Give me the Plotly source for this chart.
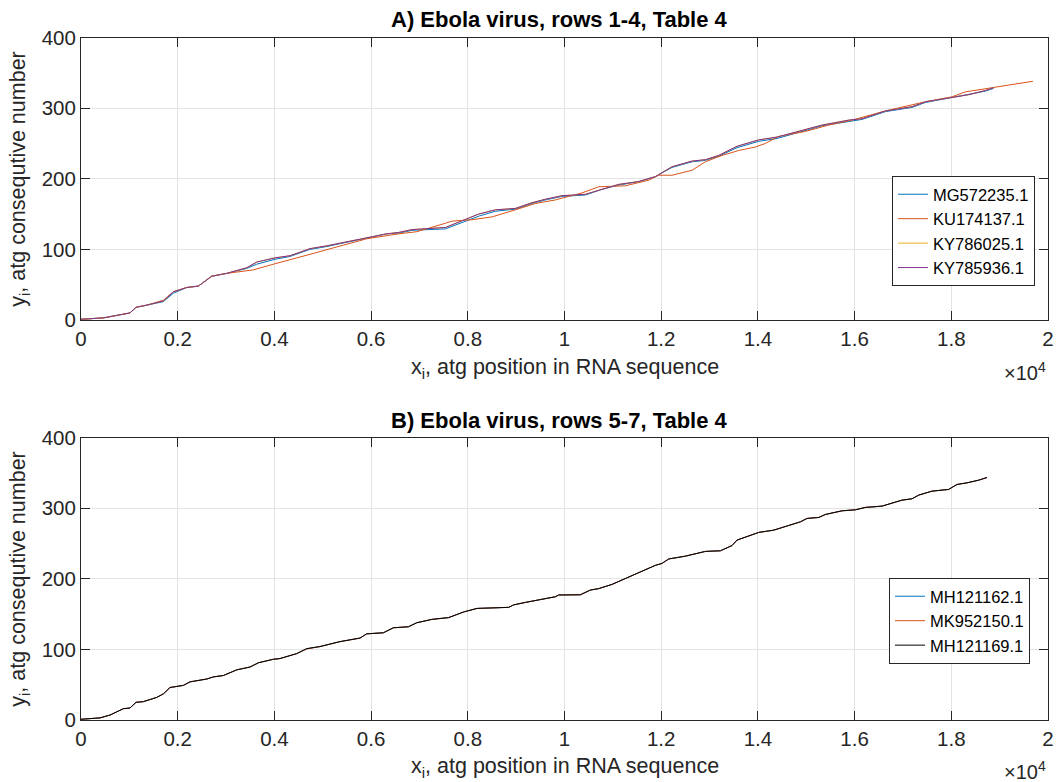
import plotly.graph_objects as go

# ---------------- Panel A data (x = atg position, y = consecutive number) ----------------
x_MG572235 = [0, 463, 1013, 1138, 1359, 1704, 1911, 2186, 2428, 2703, 3013, 3427, 3634, 4013, 4323, 4736,
              5082, 5427, 5909, 6323, 6571, 6846, 7537, 8019, 8226, 8571, 8985, 9328, 9604, 9949, 10432,
              10776, 11121, 11535, 11880, 12223, 12637, 12913, 13189, 13568, 14017, 14395, 14982, 15327,
              15877, 16153, 16636, 17187, 17463, 18014, 18359, 18705, 18877]
y_MG572235 = [1, 3, 10, 18, 21, 26, 38, 46, 48, 62, 66, 73, 79, 86, 90, 100, 104, 109, 116, 122, 123, 127,
              129, 141, 147, 154, 157, 165, 170, 175, 177, 185, 191, 196, 203, 216, 224, 226, 232, 244,
              253, 257, 269, 275, 281, 284, 295, 301, 308, 315, 319, 324, 328]

x_KU174137 = [0, 463, 1013, 1138, 1359, 1704, 1911, 2186, 2428, 2703, 3013, 3565, 3979, 4323, 4736, 5427,
              5909, 6571, 6943, 7537, 7673, 8087, 8501, 8985, 9397, 9811, 10362, 10707, 11259, 11742,
              11948, 12223, 12637, 12913, 13258, 13603, 13948, 14155, 14430, 14982, 15464, 15946, 16636,
              17463, 18014, 18291, 18767, 19256, 19688]
y_KU174137 = [1, 3, 10, 18, 21, 28, 40, 46, 48, 62, 66, 71, 79, 85, 93, 106, 115, 122, 125, 137, 140, 142,
              146, 156, 165, 170, 180, 188.6, 190, 198, 205, 205, 212, 224, 233, 240, 245, 250, 260, 267,
              276, 283, 296, 309, 316, 323, 328, 333, 338]

x_KY786025 = [0, 463, 1013, 1138, 1359, 1704, 1911, 2186, 2428, 2703, 3013, 3427, 3634, 4013, 4323, 4736,
              5082, 5427, 5909, 6323, 6571, 6846, 7537, 8019, 8226, 8571, 8985, 9328, 9604, 9949, 10432,
              10776, 11121, 11535, 11880, 12223, 12637, 12913, 13189, 13568, 14017, 14395, 14982, 15327,
              15877, 16153, 16636, 17187, 17463, 18014, 18359, 18705, 18877]
y_KY786025 = [1, 3, 10, 18, 21, 27, 40, 46, 48, 62, 66, 74, 82, 88, 91, 101, 105, 110, 116, 122, 124, 128,
              131, 144, 150, 156, 158, 166, 171, 176, 178, 185, 192, 196, 203, 217, 225, 227, 233, 246,
              255, 259, 270, 276, 283, 285, 296, 302, 309, 315, 319, 325, 329]

x_KY785936 = [0, 463, 1013, 1138, 1359, 1704, 1911, 2186, 2428, 2703, 3013, 3427, 3634, 4013, 4323, 4736,
              5082, 5427, 5909, 6323, 6571, 6846, 7537, 8019, 8226, 8571, 8985, 9328, 9604, 9949, 10432,
              10776, 11121, 11535, 11880, 12223, 12637, 12913, 13189, 13568, 14017, 14395, 14982, 15327,
              15877, 16153, 16636, 17187, 17463, 18014, 18359, 18705, 18877]
y_KY785936 = [1, 3, 10, 18, 21, 27, 40, 46, 48, 62, 66, 74, 82, 88, 91, 101, 105, 110, 116, 122, 124, 128,
              131, 144, 150, 156, 158, 166, 171, 176, 178, 185, 192, 196, 203, 217, 225, 227, 233, 246,
              255, 259, 270, 276, 283, 285, 296, 302, 309, 315, 319, 325, 329]

# ---------------- Panel B data ----------------
x_B = [0, 393, 600, 877, 1013, 1138, 1290, 1566, 1704, 1841, 2118, 2254, 2600, 2738, 2945, 3220, 3495,
       3669, 3979, 4116, 4461, 4668, 4943, 5357, 5770, 5909, 6254, 6461, 6772, 6943, 7260, 7605, 7915,
       8191, 8846, 8949, 9191, 9466, 9811, 9880, 10328, 10535, 10707, 10983, 11259, 11535, 11880, 12017,
       12155, 12500, 12913, 13224, 13465, 13568, 13845, 14017, 14327, 14568, 14879, 15016, 15258, 15396,
       15740, 16016, 16223, 16567, 16774, 16981, 17187, 17325, 17600, 17945, 18118, 18325, 18567, 18739]
y_MH121162 = [1, 3, 7, 16, 17, 25, 26, 32, 37, 46, 49, 54, 58, 61, 63, 71, 75, 81, 86, 87, 94, 101, 104,
              111, 116, 122, 123.5, 130.6, 132, 137.7, 142.5, 145, 153, 158, 159.5, 163, 166.5, 170, 174.5,
              177, 177.3, 184, 186, 192, 200, 208, 219, 221.7, 228, 232, 238.7, 239.6, 247, 254.7, 261.8,
              265.6, 268.8, 273.5, 280.6, 285.4, 286.8, 291, 296.2, 297.6, 301, 302.8, 306.6, 311.3, 313.2,
              318.4, 324, 326.5, 333.5, 335.8, 339.6, 343.4]
y_MK952150 = [1, 3, 7, 16, 17, 25, 26, 32, 37, 46, 49, 54, 58, 61, 63, 71, 75, 81, 86, 87, 94, 100.5, 104,
              111, 116, 122, 123.5, 130.6, 132, 137.7, 142.5, 145, 153, 158, 159.5, 163, 166.5, 170, 174.5,
              177, 177.3, 184, 186, 192, 200, 208, 219, 221.7, 228, 232, 238.7, 239.6, 247, 254.7, 261.8,
              265.6, 268.8, 273.5, 280.6, 285.4, 286.8, 291, 296.2, 297.6, 301, 302.8, 306.6, 311.3, 313.2,
              318.4, 324, 326.5, 333.5, 335.8, 339.6, 343.4]
y_MH121169 = [1, 3, 7, 16, 17, 25, 26, 32, 37, 46, 49, 54, 58, 61, 63, 71, 75, 81, 86, 87, 94, 101, 104,
              111, 116, 122, 123.5, 130.6, 132, 137.7, 142.5, 145, 153, 158, 159.5, 163, 166.5, 170, 174.5,
              177, 177.3, 184, 186, 192, 200, 208, 219, 221.7, 228, 232, 238.7, 239.6, 247, 254.7, 261.8,
              265.6, 268.8, 273.5, 280.6, 285.4, 286.8, 291, 296.2, 297.6, 301, 302.8, 306.6, 311.3, 313.2,
              318.4, 324, 326.5, 333.5, 335.8, 339.6, 343.4]

x_ticks = [0, 2000, 4000, 6000, 8000, 10000, 12000, 14000, 16000, 18000, 20000]
x_ticklabels = ["0", "0.2", "0.4", "0.6", "0.8", "1", "1.2", "1.4", "1.6", "1.8", "2"]
y_ticks = [0, 100, 200, 300, 400]

W, H = 1057, 782
FONT = "Liberation Sans, Arial, sans-serif"
TXT = "#262626"
C_BLUE, C_ORANGE, C_YELLOW, C_PURPLE, C_BLACK = "#0072BD", "#D95319", "#EDB120", "#7E2F8E", "#000000"

fig = go.Figure()

top = [("MG572235.1", x_MG572235, y_MG572235, C_BLUE),
       ("KU174137.1", x_KU174137, y_KU174137, C_ORANGE),
       ("KY786025.1", x_KY786025, y_KY786025, C_YELLOW),
       ("KY785936.1", x_KY785936, y_KY785936, C_PURPLE)]
for name, xs, ys, c in top:
    fig.add_trace(go.Scatter(x=xs, y=ys, mode="lines", name=name, line=dict(color=c, width=1),
                             xaxis="x", yaxis="y", legend="legend"))

bot = [("MH121162.1", x_B, y_MH121162, C_BLUE),
       ("MK952150.1", x_B, y_MK952150, C_ORANGE),
       ("MH121169.1", x_B, y_MH121169, C_BLACK)]
for name, xs, ys, c in bot:
    fig.add_trace(go.Scatter(x=xs, y=ys, mode="lines", name=name, line=dict(color=c, width=1),
                             xaxis="x2", yaxis="y2", legend="legend2"))

def px_x(p):
    return p / W

def px_y(p):
    return 1 - p / H

xdom = [px_x(81), px_x(1048)]
ydom_top = [px_y(320), px_y(37.5)]
ydom_bot = [px_y(720), px_y(437.5)]

axis_common = dict(showline=True, linecolor=TXT, linewidth=1, mirror="ticks", ticks="inside",
                   ticklen=9, tickcolor=TXT, tickwidth=1, showgrid=True, gridcolor="#e3e3e3",
                   gridwidth=1, zeroline=False, automargin=False,
                   tickfont=dict(family=FONT, size=20.5, color=TXT))

fig.update_layout(
    template="none",
    width=W, height=H, margin=dict(l=0, r=0, t=0, b=0, pad=0),
    paper_bgcolor="white", plot_bgcolor="white", showlegend=True,
    xaxis=dict(domain=xdom, range=[0, 20000], tickvals=x_ticks, ticktext=x_ticklabels,
               anchor="y", **axis_common),
    yaxis=dict(domain=ydom_top, range=[0, 400], tickvals=y_ticks, anchor="x", **axis_common),
    xaxis2=dict(domain=xdom, range=[0, 20000], tickvals=x_ticks, ticktext=x_ticklabels,
                anchor="y2", **axis_common),
    yaxis2=dict(domain=ydom_bot, range=[0, 400], tickvals=y_ticks, anchor="x2", **axis_common),
    legend=dict(x=px_x(1035), y=px_y(176), xanchor="right", yanchor="top", bgcolor="white",
                bordercolor=TXT, borderwidth=1, font=dict(family=FONT, size=16.5, color="#000"),
                tracegroupgap=0),
    legend2=dict(x=px_x(1030), y=px_y(578), xanchor="right", yanchor="top", bgcolor="white",
                 bordercolor=TXT, borderwidth=1, font=dict(family=FONT, size=16.5, color="#000"),
                 tracegroupgap=0),
)

ann = []
cx = (81 + 1048) / 2
for ytitle, text in [(20, "<b>A) Ebola virus, rows 1-4, Table 4</b>"),
                     (420, "<b>B) Ebola virus, rows 5-7, Table 4</b>")]:
    ann.append(dict(x=px_x(cx - 5), y=px_y(ytitle), xref="paper", yref="paper", text=text,
                    showarrow=False, xanchor="center", yanchor="middle",
                    font=dict(family=FONT, size=22, color="#000")))
for yl, ymid in [(368, (320 + 37.5) / 2), (767, (720 + 437.5) / 2)]:
    ann.append(dict(x=px_x(cx), y=px_y(yl), xref="paper", yref="paper",
                    text="x<sub>i</sub>, atg position in RNA sequence", showarrow=False,
                    xanchor="center", yanchor="middle", font=dict(family=FONT, size=21.5, color=TXT)))
    ann.append(dict(x=px_x(20), y=px_y(ymid), xref="paper", yref="paper",
                    text="y<sub>i</sub>, atg consequtive number", showarrow=False, textangle=-90,
                    xanchor="center", yanchor="middle", font=dict(family=FONT, size=21.5, color=TXT)))
    ann.append(dict(x=px_x(1048), y=px_y(yl + 3), xref="paper", yref="paper",
                    text="×10<sup>4</sup>", showarrow=False, xanchor="right", yanchor="middle",
                    font=dict(family=FONT, size=20, color=TXT)))
fig.update_layout(annotations=ann)

fig.write_html("out.html")
